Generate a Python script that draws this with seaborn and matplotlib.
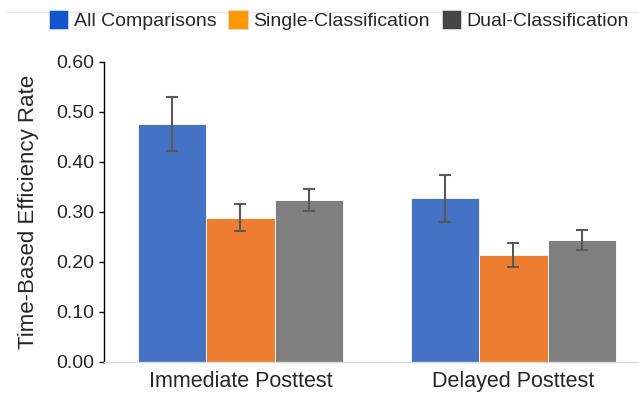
import numpy as np
import pandas as pd
import matplotlib
matplotlib.use('Agg')
import matplotlib.pyplot as plt
import seaborn as sns
from matplotlib.patches import Patch
from matplotlib.lines import Line2D

# values
tests = ['Immediate Posttest', 'Delayed Posttest']
groups = ['All Comparisons', 'Single-Classification', 'Dual-Classification']
rate_all = [0.476, 0.328]
rate_single = [0.289, 0.214]
rate_dual = [0.325, 0.245]
err_all = [0.054, 0.047]
err_single = [0.027, 0.024]
err_dual = [0.022, 0.020]

bar_colors = ['#4472C4', '#ED7D31', '#7F7F7F']
legend_colors = ['#1155CC', '#FF9900', '#444444']

df = pd.DataFrame({
    'test': tests * 3,
    'group': [g for g in groups for _ in tests],
    'rate': rate_all + rate_single + rate_dual,
    'err': err_all + err_single + err_dual,
})

sns.set_style('white')
plt.rcParams['font.family'] = ['Liberation Sans', 'DejaVu Sans']

fig = plt.figure(figsize=(6.39, 3.93), dpi=100)
ax = fig.add_axes([104 / 639, 31 / 393, 535 / 639, 300 / 393])

sns.barplot(data=df, x='test', y='rate', hue='group', order=tests, hue_order=groups,
            palette=bar_colors, width=0.75, errorbar=None, legend=False, ax=ax,
            edgecolor='white', linewidth=0.6, saturation=1)

# error bars at the centres of the drawn bars
for i, g in enumerate(groups):
    sub = df[df['group'] == g].set_index('test').loc[tests]
    bars = ax.containers[i]
    xs = [b.get_x() + b.get_width() / 2 for b in bars]
    ax.errorbar(xs, sub['rate'], yerr=sub['err'], fmt='none', ecolor='#595959',
                elinewidth=1.5, capsize=4, capthick=1.5)

ax.set_ylim(0, 0.6)
ax.set_xlim(-0.5, 1.46)
ax.set_yticks(np.arange(0, 0.61, 0.1))
ax.yaxis.set_major_formatter(matplotlib.ticker.FormatStrFormatter('%.2f'))
ax.tick_params(axis='y', left=True, length=3.5, width=1, color='black', labelsize=14, pad=3.5)
ax.tick_params(axis='x', bottom=False, labelsize=15.5, pad=3)
ax.set_xlabel('')
ax.set_ylabel('Time-Based Efficiency Rate', fontsize=16, labelpad=12)

sns.despine(ax=ax, top=True, right=True)
ax.spines['left'].set_color('black')
ax.spines['left'].set_linewidth(1)
ax.spines['bottom'].set_color('#D9D9D9')
ax.spines['bottom'].set_linewidth(1)

# faint line behind the legend
fig.add_artist(Line2D([6 / 639, 1.0], [1 - 12 / 393, 1 - 12 / 393], color='#E6E6E6', lw=1,
                      transform=fig.transFigure))

handles = [Patch(facecolor=c, edgecolor='#DDDDDD', linewidth=0.5) for c in legend_colors]
fig.legend(handles, groups, loc='center', bbox_to_anchor=(339 / 639, 1 - 20 / 393),
           ncol=3, frameon=False, fontsize=14, handlelength=1.0, handleheight=1.1,
           handletextpad=0.28, columnspacing=0.62, borderaxespad=0, borderpad=0)

fig.savefig('out.png', dpi=100)
